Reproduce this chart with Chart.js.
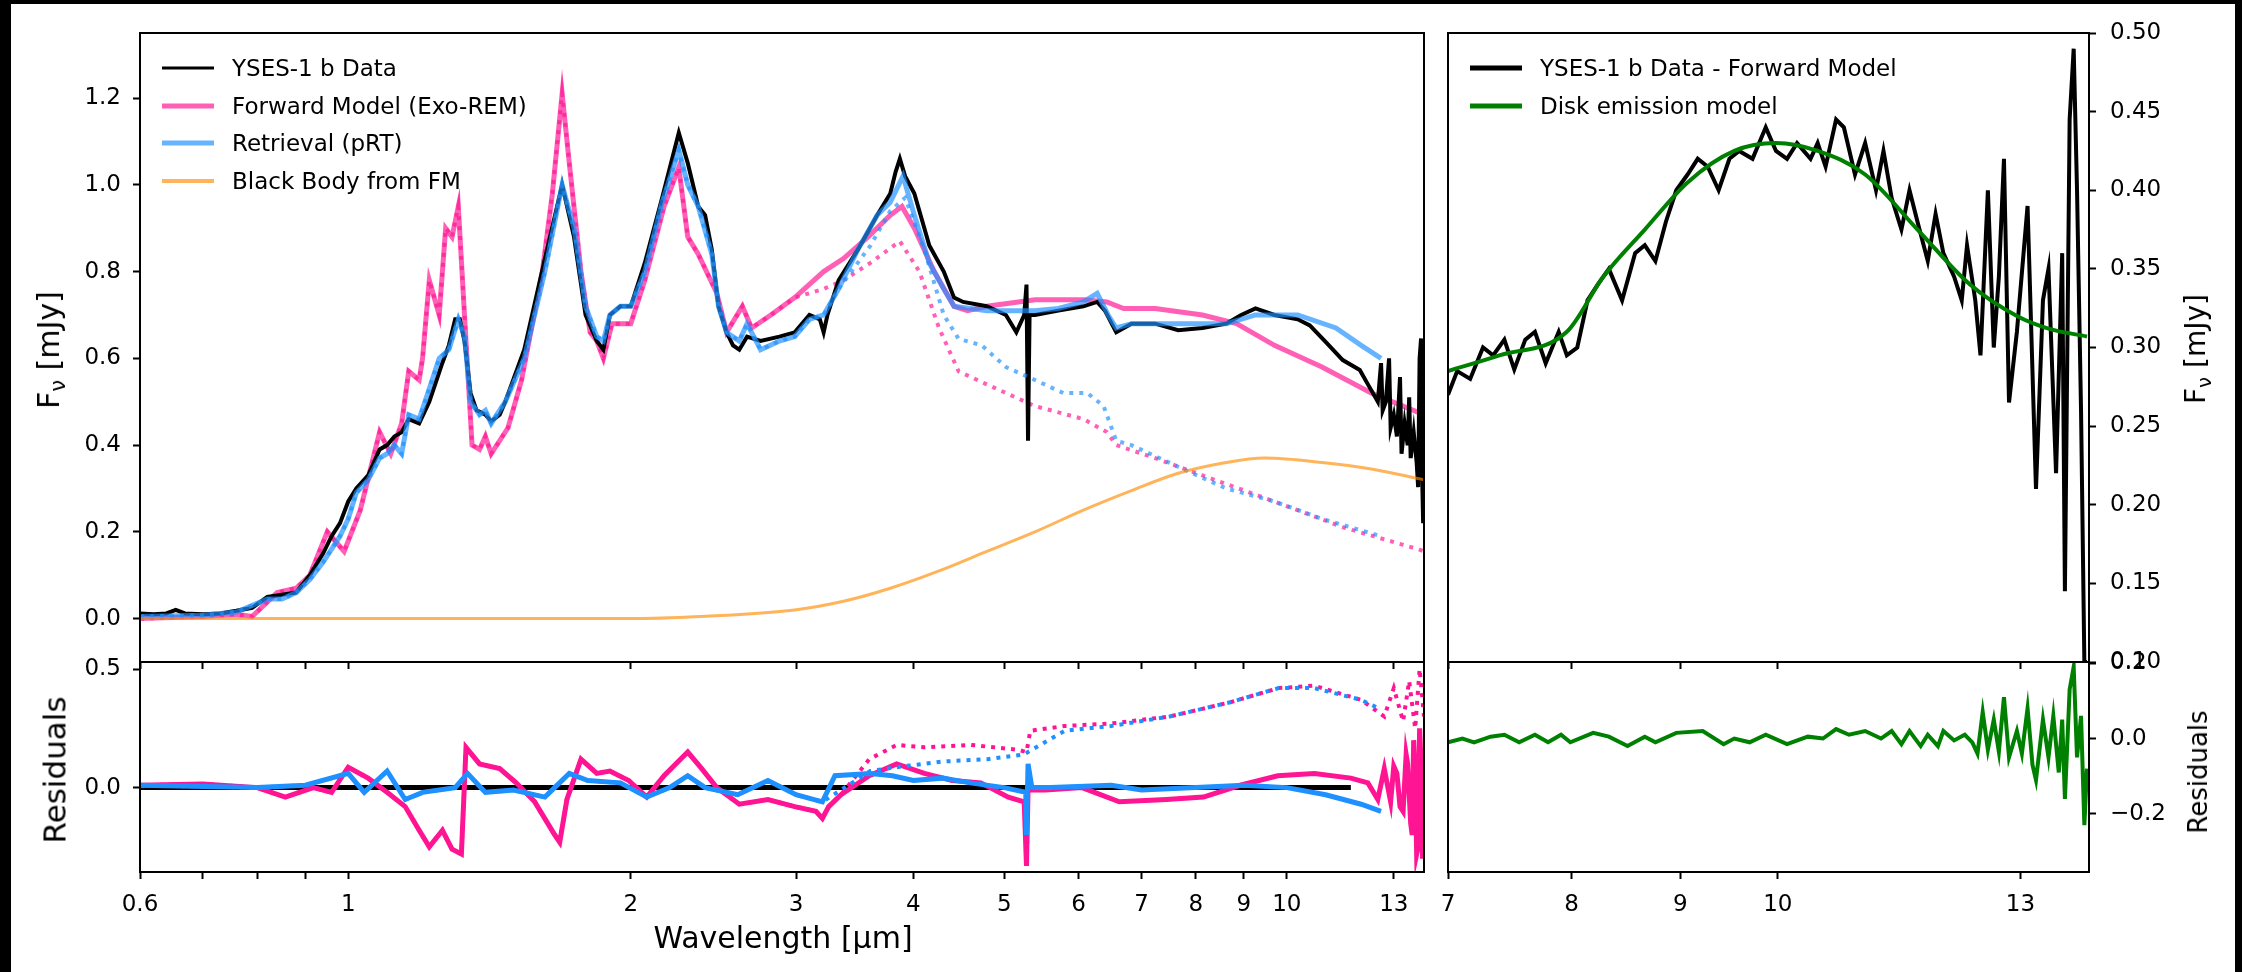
<!DOCTYPE html>
<html>
<head>
<meta charset="utf-8">
<script src="https://cdn.jsdelivr.net/npm/chart.js@4.4.1/dist/chart.umd.min.js"></script>
<style>
  html, body { margin: 0; padding: 0; background: #000; width: 2242px; height: 972px; overflow: hidden; }
  #fig { position: absolute; left: 11px; top: 4px; width: 2224px; height: 968px; background: #fff; }
  canvas { position: absolute; left: 0; top: 0; }
  .lbl { position: absolute; font-family: 'DejaVu Sans'; color: #000; white-space: nowrap; line-height: 1; transform: translate(-50%, -50%); }
  .rot { transform: translate(-50%, -50%) rotate(-90deg); }
  .lbl sub { font-size: 0.7em; vertical-align: -0.3em; line-height: 0; }
  .leg { position: absolute; font-family: 'DejaVu Sans'; font-size: 23px; line-height: 1; color: #000; white-space: nowrap; transform: translateY(-50%); }
  .sw { position: absolute; width: 52px; transform: translateY(-50%); }
</style>
</head>
<body>
<div id="fig"></div>
<canvas id="spec" width="2242" height="972"></canvas>
<canvas id="specRes" width="2242" height="972"></canvas>
<canvas id="disk" width="2242" height="972"></canvas>
<canvas id="diskRes" width="2242" height="972"></canvas>

<div class="lbl rot" style="left:49px; top:350px; font-size:30px">F<sub>ν</sub> [mJy]</div>
<div class="lbl rot" style="left:55px; top:770px; font-size:31px">Residuals</div>
<div class="lbl" style="left:783px; top:938px; font-size:30px">Wavelength [µm]</div>
<div class="lbl rot" style="left:2196px; top:349px; font-size:28px">F<sub>ν</sub> [mJy]</div>
<div class="lbl rot" style="left:2198px; top:772px; font-size:26px">Residuals</div>

<script>
// ---- main spectrum (top left) ----
const dataWl = [0.60,0.62,0.64,0.655,0.67,0.70,0.73,0.76,0.79,0.82,
  0.85,0.88,0.91,0.94,0.96,0.98,1.00,1.02,1.05,1.08,
  1.10,1.12,1.14,1.16,1.19,1.22,1.26,1.28,1.30,1.315,
  1.33,1.35,1.37,1.40,1.42,1.45,1.47,1.54,1.62,1.69,
  1.74,1.79,1.84,1.87,1.90,1.95,2.00,2.07,2.16,2.25,
  2.30,2.36,2.40,2.44,2.48,2.53,2.57,2.61,2.66,2.75,
  2.88,2.99,3.10,3.18,3.21,3.24,3.33,3.49,3.66,3.78,
  3.83,3.87,3.92,4.01,4.16,4.31,4.42,4.52,4.79,5.02,
  5.15,5.25,5.28,5.30,5.32,5.39,5.71,6.07,6.28,6.40,
  6.58,6.83,7.24,7.66,8.13,8.62,8.94,9.26,9.70,10.27,
  10.58,11.03,11.47,11.96,12.20,12.35,12.50,12.60,12.65,12.75,
  12.85,12.90,13.00,13.10,13.20,13.25,13.35,13.45,13.50,13.55,
  13.65,13.75,13.80,13.85,13.90,13.93,13.97,14.00];
const dataFlux = [0.012,0.010,0.012,0.020,0.012,0.010,0.012,0.018,0.025,0.050,
  0.055,0.060,0.100,0.150,0.190,0.220,0.270,0.300,0.330,0.390,
  0.400,0.420,0.430,0.460,0.450,0.500,0.590,0.630,0.690,0.690,
  0.640,0.520,0.480,0.470,0.455,0.470,0.500,0.620,0.830,1.000,
  0.880,0.700,0.640,0.620,0.700,0.720,0.720,0.820,0.970,1.120,
  1.050,0.950,0.930,0.850,0.720,0.660,0.630,0.620,0.650,0.640,
  0.650,0.660,0.700,0.690,0.660,0.700,0.780,0.850,0.930,0.980,
  1.030,1.060,1.020,0.980,0.860,0.800,0.740,0.730,0.720,0.700,
  0.660,0.700,0.770,0.410,0.700,0.700,0.710,0.720,0.730,0.710,
  0.660,0.680,0.680,0.665,0.670,0.680,0.700,0.715,0.700,0.690,
  0.676,0.635,0.596,0.573,0.540,0.520,0.500,0.589,0.480,0.500,
  0.600,0.440,0.470,0.420,0.557,0.380,0.450,0.400,0.510,0.370,
  0.430,0.360,0.303,0.600,0.646,0.350,0.220,0.450];

const fmWl = [0.60,0.70,0.76,0.79,0.84,0.88,0.91,0.95,0.99,1.03,
  1.08,1.11,1.14,1.16,1.19,1.20,1.22,1.25,1.27,1.29,
  1.31,1.33,1.355,1.38,1.40,1.42,1.48,1.53,1.61,1.65,
  1.69,1.72,1.77,1.81,1.84,1.87,1.91,2.00,2.07,2.17,
  2.25,2.30,2.36,2.47,2.53,2.63,2.69,2.82,2.99,3.21,
  3.37,3.58,3.78,3.89,4.01,4.21,4.42,4.57,4.79,5.39,
  6.07,6.43,6.70,7.24,8.13,8.84,9.70,10.90,12.30,14.00];
const fmFlux = [0.000,0.005,0.010,0.005,0.060,0.070,0.100,0.200,0.155,0.250,
  0.430,0.380,0.450,0.570,0.550,0.600,0.780,0.700,0.900,0.880,
  0.950,0.700,0.400,0.390,0.420,0.380,0.440,0.550,0.800,0.980,
  1.210,1.050,0.800,0.660,0.640,0.600,0.680,0.680,0.780,0.950,
  1.040,0.880,0.840,0.750,0.660,0.720,0.670,0.700,0.740,0.800,
  0.830,0.880,0.930,0.950,0.900,0.800,0.720,0.710,0.720,0.735,
  0.735,0.730,0.715,0.715,0.700,0.680,0.630,0.580,0.520,0.470];
// dotted forward model leaves the solid one past ~3 micron
const fmDotWl = [3.21,3.37,3.60,3.87,4.06,4.26,4.47,4.79,5.39,6.07,6.43,6.58,7.24,8.13,9.15,10.27,11.50,13.80,14.00];
const fmDotFlux = [0.760,0.780,0.820,0.870,0.800,0.670,0.570,0.540,0.490,0.460,0.430,0.400,0.370,0.330,0.290,0.250,0.210,0.160,0.155];

const retWl = [0.60,0.70,0.76,0.82,0.85,0.88,0.91,0.94,0.96,0.98,
  1.00,1.02,1.05,1.08,1.10,1.12,1.14,1.16,1.19,1.22,
  1.25,1.28,1.31,1.33,1.35,1.38,1.40,1.42,1.47,1.54,
  1.62,1.69,1.74,1.79,1.84,1.87,1.90,1.95,2.00,2.07,
  2.16,2.25,2.30,2.36,2.44,2.48,2.53,2.61,2.66,2.75,
  2.88,2.99,3.10,3.21,3.33,3.49,3.66,3.78,3.90,4.01,
  4.16,4.31,4.42,4.79,5.39,5.71,6.07,6.28,6.45,6.58,
  6.83,7.66,8.62,9.26,10.27,11.28,12.00,12.60];
const retFlux = [0.005,0.008,0.015,0.045,0.045,0.060,0.090,0.130,0.160,0.190,
  0.230,0.290,0.320,0.370,0.380,0.400,0.380,0.470,0.460,0.530,
  0.600,0.620,0.690,0.650,0.500,0.470,0.480,0.450,0.500,0.600,
  0.800,1.000,0.900,0.720,0.650,0.640,0.700,0.720,0.720,0.800,
  0.960,1.080,1.000,0.950,0.840,0.720,0.660,0.640,0.680,0.620,
  0.640,0.650,0.690,0.700,0.760,0.850,0.930,0.960,1.020,0.930,
  0.820,0.760,0.720,0.710,0.710,0.715,0.730,0.750,0.700,0.670,
  0.680,0.680,0.680,0.700,0.700,0.670,0.630,0.600];
const retDotWl = [3.33,3.60,3.78,3.92,4.11,4.31,4.47,4.73,5.02,5.39,5.78,6.13,6.38,6.58,6.83,7.66,8.62,9.70,10.90,12.60];
const retDotFlux = [0.760,0.860,0.940,0.970,0.850,0.700,0.645,0.630,0.580,0.550,0.520,0.520,0.490,0.410,0.400,0.350,0.300,0.270,0.230,0.190];

const bbWl = [0.60,2.00,2.37,2.99,3.37,3.78,4.26,4.79,5.39,6.07,6.83,7.66,8.62,9.47,10.90,12.30,14.00];
const bbFlux = [0.000,0.000,0.005,0.020,0.040,0.070,0.110,0.155,0.200,0.250,0.295,0.335,0.360,0.370,0.360,0.345,0.320];

// ---- residuals (bottom left) ----
const zeroWl = [0.60, 11.70];
const zeroVal = [0, 0];
const resFmWl = [0.60,0.70,0.80,0.857,0.918,0.96,1.00,1.05,1.10,1.15,
  1.19,1.22,1.26,1.29,1.32,1.335,1.38,1.45,1.51,1.58,
  1.66,1.68,1.71,1.77,1.84,1.90,1.99,2.08,2.17,2.30,
  2.38,2.47,2.61,2.80,2.99,3.15,3.20,3.25,3.35,3.59,
  3.84,4.11,4.40,4.72,5.05,5.25,5.28,5.30,5.53,6.05,
  6.63,7.44,8.15,8.92,9.78,10.70,11.70,12.20,12.50,12.70,
  12.90,13.00,13.10,13.20,13.30,13.40,13.45,13.55,13.60,13.65,
  13.70,13.75,13.80,13.85,13.90,13.95,14.00];
const resFmVal = [0.010,0.015,0.000,-0.040,0.000,-0.020,0.086,0.040,-0.020,-0.080,
  -0.180,-0.250,-0.180,-0.260,-0.280,0.170,0.100,0.080,0.020,-0.060,
  -0.200,-0.230,-0.050,0.120,0.060,0.070,0.030,-0.040,0.050,0.150,
  0.080,0.000,-0.070,-0.050,-0.080,-0.100,-0.130,-0.080,-0.030,0.050,
  0.100,0.060,0.030,0.020,-0.040,-0.060,-0.330,-0.010,-0.010,0.000,
  -0.060,-0.050,-0.040,0.010,0.050,0.060,0.040,0.020,-0.050,0.080,
  -0.060,0.090,0.060,-0.080,-0.100,0.140,0.100,-0.150,-0.200,0.200,
  0.050,-0.280,-0.250,0.250,0.100,-0.300,-0.150];
const resFmDotWl = [3.59,3.84,4.11,4.61,5.17,5.28,5.33,5.80,6.48,7.50,8.70,9.80,10.70,12.00,12.70,13.00,13.30,13.50,13.70,13.85,14.00];
const resFmDotVal = [0.120,0.180,0.170,0.180,0.160,0.150,0.240,0.260,0.270,0.300,0.360,0.420,0.430,0.370,0.300,0.420,0.280,0.450,0.250,0.500,0.300];

const resRetWl = [0.60,0.80,0.90,1.00,1.04,1.10,1.15,1.20,1.30,1.34,
  1.40,1.50,1.62,1.72,1.80,1.95,2.08,2.20,2.30,2.40,
  2.60,2.80,3.00,3.20,3.30,3.60,3.80,4.00,4.30,4.60,
  5.00,5.27,5.28,5.30,5.35,5.60,6.50,7.00,8.00,9.00,
  10.00,11.00,12.00,12.60];
const resRetVal = [0.010,0.000,0.010,0.060,-0.020,0.070,-0.050,-0.020,0.000,0.060,
  -0.020,-0.010,-0.040,0.060,0.030,0.020,-0.040,0.000,0.050,0.000,
  -0.030,0.030,-0.030,-0.060,0.050,0.060,0.050,0.030,0.040,0.020,
  0.000,-0.020,-0.200,0.100,0.000,0.000,0.010,-0.010,0.000,0.010,
  0.000,-0.030,-0.070,-0.100];
const resRetDotWl = [3.60,3.90,4.30,4.80,5.25,5.30,5.80,6.50,7.50,8.70,9.80,10.70,12.00,12.60];
const resRetDotVal = [0.070,0.090,0.110,0.120,0.140,0.150,0.240,0.260,0.300,0.360,0.420,0.420,0.370,0.330];

// ---- disk excess (right) ----
const diskWl = [7.00,7.07,7.17,7.27,7.35,7.44,7.52,7.61,7.69,7.78,
  7.89,7.96,8.05,8.14,8.23,8.33,8.45,8.57,8.66,8.76,
  8.86,8.96,9.07,9.17,9.27,9.38,9.49,9.59,9.73,9.87,
  9.98,10.10,10.21,10.36,10.44,10.53,10.65,10.74,10.87,10.99,
  11.12,11.21,11.31,11.43,11.53,11.63,11.76,11.86,11.96,12.10,
  12.20,12.27,12.38,12.45,12.55,12.63,12.70,12.77,12.84,12.95,
  13.10,13.22,13.32,13.40,13.51,13.60,13.64,13.71,13.77,13.82,
  13.88,13.93,13.97];
const diskFlux = [0.270,0.285,0.280,0.300,0.295,0.305,0.286,0.305,0.310,0.290,
  0.310,0.295,0.300,0.330,0.340,0.350,0.330,0.360,0.365,0.355,
  0.380,0.400,0.410,0.420,0.415,0.400,0.420,0.425,0.420,0.440,
  0.425,0.420,0.430,0.420,0.430,0.415,0.445,0.440,0.410,0.430,
  0.400,0.425,0.395,0.375,0.400,0.380,0.355,0.385,0.360,0.345,
  0.330,0.365,0.330,0.295,0.400,0.300,0.345,0.420,0.265,0.310,
  0.390,0.210,0.330,0.350,0.220,0.360,0.145,0.445,0.490,0.400,
  0.260,0.100,0.100];
const diskModelWl = [7.00,7.40,7.96,8.28,8.66,9.07,9.54,9.98,10.44,10.99,11.63,12.31,12.95,13.40,13.97];
const diskModelFlux = [0.285,0.295,0.310,0.345,0.375,0.405,0.425,0.430,0.425,0.410,0.375,0.340,0.320,0.312,0.307];

const diskResWl = [7.00,7.11,7.20,7.33,7.44,7.56,7.69,7.80,7.91,7.99,
  8.19,8.33,8.50,8.66,8.76,8.96,9.22,9.43,9.54,9.70,
  9.87,10.10,10.33,10.50,10.65,10.80,10.99,11.18,11.31,11.43,
  11.53,11.67,11.76,11.89,11.96,12.10,12.24,12.34,12.41,12.48,
  12.55,12.63,12.70,12.77,12.84,12.95,13.02,13.10,13.17,13.22,
  13.32,13.40,13.47,13.55,13.60,13.64,13.71,13.77,13.82,13.88,
  13.93,13.97];
const diskResVal = [-0.010,0.000,-0.010,0.005,0.010,-0.010,0.010,-0.010,0.010,-0.010,
  0.015,0.005,-0.020,0.005,-0.010,0.015,0.020,-0.015,0.000,-0.010,
  0.010,-0.015,0.005,0.000,0.025,0.010,0.020,0.000,0.020,-0.015,
  0.020,-0.020,0.010,-0.020,0.020,-0.005,0.010,-0.010,-0.040,0.070,
  -0.030,0.050,-0.035,0.110,-0.050,0.020,-0.040,0.080,-0.070,-0.110,
  0.050,-0.050,0.060,-0.090,0.050,-0.160,0.130,0.190,-0.050,0.060,
  -0.230,-0.080];

// ---- ticks ----
const xTicksLeft = [0.6, 0.7, 0.8, 0.9, 1, 2, 3, 4, 5, 6, 7, 8, 9, 10, 13];
const xLabelsLeft = ['0.6', '', '', '', '1', '2', '3', '4', '5', '6', '7', '8', '9', '10', '13'];
const xTicksRight = [7, 8, 9, 10, 13];
const xLabelsRight = ['7', '8', '9', '10', '13'];
const yTicksSpec = [0, 0.2, 0.4, 0.6, 0.8, 1.0, 1.2];
const yTicksSpecRes = [0, 0.5];
const yTicksDisk = [0.10, 0.15, 0.20, 0.25, 0.30, 0.35, 0.40, 0.45, 0.50];
const yTicksDiskRes = [-0.2, 0, 0.2];

const pinkLine = 'rgba(255,20,147,0.68)';
const blueLine = 'rgba(30,144,255,0.68)';
const orangeLine = 'rgba(255,140,0,0.65)';
const pinkRes = '#ff1493';
const blueRes = '#1e90ff';
const green = '#008000';

Chart.defaults.font.family = 'DejaVu Sans';
Chart.defaults.color = '#000';
const tickFont = { family: 'DejaVu Sans', size: 23 };

// keep the solid part below the split, then the dotted tail
const joinBelow = (wl, vals, cut, tailWl, tailVals) => ({
  wl: wl.filter(w => w < cut).concat(tailWl),
  vals: vals.filter((v, i) => wl[i] < cut).concat(tailVals)
});
const fmDot = joinBelow(fmWl, fmFlux, 3.1, fmDotWl, fmDotFlux);
const retDot = joinBelow(retWl, retFlux, 3.3, retDotWl, retDotFlux);
const resFmDot = joinBelow(resFmWl, resFmVal, 3.4, resFmDotWl, resFmDotVal);
const resRetDot = joinBelow(resRetWl, resRetVal, 3.3, resRetDotWl, resRetDotVal);

function series(xs, ys, color, width, order, extra) {
  return Object.assign({
    data: xs.map((x, i) => ({ x: x, y: ys[i] })),
    borderColor: color, borderWidth: width, pointRadius: 0,
    tension: 0, fill: false, order: order
  }, extra || {});
}
const dotted = { borderDash: [4, 6] };
const smooth = { cubicInterpolationMode: 'monotone' };

function xAxis(min, max, ticks, labels, height) {
  return {
    type: 'logarithmic', position: 'bottom', min: min, max: max,
    border: { display: false },
    grid: { drawOnChartArea: false, tickLength: 7, tickWidth: 2, tickColor: '#000' },
    ticks: {
      display: labels !== null, autoSkip: false, maxRotation: 0, minRotation: 0,
      padding: 12, color: '#000', font: tickFont,
      callback: (v) => labels ? labels[ticks.indexOf(v)] : ''
    },
    afterBuildTicks: (s) => { s.ticks = ticks.map(v => ({ value: v })); },
    afterFit: (s) => { s.height = height; }
  };
}

function yAxis(side, min, max, ticks, fmt, width) {
  return {
    type: 'linear', position: side, min: min, max: max,
    border: { display: false },
    grid: { drawOnChartArea: false, tickLength: 7, tickWidth: 2, tickColor: '#000' },
    ticks: { autoSkip: false, padding: side === 'left' ? 12 : 14, color: '#000', font: tickFont, callback: fmt },
    afterBuildTicks: (s) => { s.ticks = ticks.map(v => ({ value: v })); },
    afterFit: (s) => { s.width = width; }
  };
}

// matplotlib style box round each panel
const frame = {
  id: 'frame',
  afterDatasetsDraw(chart) {
    const a = chart.chartArea;
    const ctx = chart.ctx;
    ctx.save();
    ctx.strokeStyle = '#000';
    ctx.lineWidth = 2;
    ctx.strokeRect(a.left, a.top, a.right - a.left, a.bottom - a.top);
    ctx.restore();
  }
};

function makeChart(id, datasets, scales, pad) {
  return new Chart(document.getElementById(id), {
    type: 'line',
    data: { datasets: datasets },
    options: {
      responsive: false, animation: false, devicePixelRatio: 1, events: [],
      layout: { padding: pad, autoPadding: false },
      plugins: { legend: { display: false }, tooltip: { enabled: false } },
      scales: scales
    },
    plugins: [frame]
  });
}

const fix1 = (v) => v.toFixed(1);
const fix2 = (v) => v.toFixed(2);
const signed = (v) => (v < 0 ? '\u2212' + (-v).toFixed(1) : v.toFixed(1));

// top left: spectrum
makeChart('spec', [
  series(fmWl, fmFlux, pinkLine, 5, 5),
  series(fmDot.wl, fmDot.vals, pinkLine, 4, 4, dotted),
  series(dataWl, dataFlux, '#000', 4, 3),
  series(retWl, retFlux, blueLine, 5, 2),
  series(retDot.wl, retDot.vals, blueLine, 4, 1, dotted),
  series(bbWl, bbFlux, orangeLine, 3, 0, smooth)
], {
  x: xAxis(0.6, 14, xTicksLeft, null, 10),
  y: yAxis('left', -0.1, 1.35, yTicksSpec, fix1, 140)
}, { left: 0, top: 33, right: 818, bottom: 300 });

// bottom left: residuals
makeChart('specRes', [
  series(zeroWl, zeroVal, '#000', 5, 5),
  series(resFmWl, resFmVal, pinkRes, 5, 4),
  series(resFmDot.wl, resFmDot.vals, pinkRes, 4, 3, dotted),
  series(resRetWl, resRetVal, blueRes, 5, 2),
  series(resRetDot.wl, resRetDot.vals, blueRes, 4, 1, dotted)
], {
  x: xAxis(0.6, 14, xTicksLeft, xLabelsLeft, 100),
  y: yAxis('left', -0.356, 0.53, yTicksSpecRes, fix1, 140)
}, { left: 0, top: 662, right: 818, bottom: 0 });

// top right: disk excess
makeChart('disk', [
  series(diskWl, diskFlux, '#000', 4, 1),
  series(diskModelWl, diskModelFlux, green, 4, 0, smooth)
], {
  x: xAxis(7, 14, xTicksRight, null, 10),
  y: yAxis('right', 0.10, 0.50, yTicksDisk, fix2, 100)
}, { left: 1448, top: 33, right: 53, bottom: 300 });

// bottom right: disk residuals
makeChart('diskRes', [
  series(diskResWl, diskResVal, green, 4, 0)
], {
  x: xAxis(7, 14, xTicksRight, xLabelsRight, 100),
  y: yAxis('right', -0.354, 0.203, yTicksDiskRes, signed, 100)
}, { left: 1448, top: 662, right: 53, bottom: 0 });

// legends drawn inside the upper left of each top panel
const legendLeft = [
  ['YSES-1 b Data', '#000', 3],
  ['Forward Model (Exo-REM)', pinkLine, 5],
  ['Retrieval (pRT)', blueLine, 5],
  ['Black Body from FM', orangeLine, 4]
];
const legendRight = [
  ['YSES-1 b Data - Forward Model', '#000', 5],
  ['Disk emission model', green, 5]
];

function addLegend(items, x, y0) {
  items.forEach((it, i) => {
    const y = y0 + i * 37.7;
    const sw = document.createElement('div');
    sw.className = 'sw';
    sw.style.left = x + 'px';
    sw.style.top = y + 'px';
    sw.style.height = it[2] + 'px';
    sw.style.background = it[1];
    document.body.appendChild(sw);
    const tx = document.createElement('div');
    tx.className = 'leg';
    tx.style.left = (x + 70) + 'px';
    tx.style.top = y + 'px';
    tx.textContent = it[0];
    document.body.appendChild(tx);
  });
}
addLegend(legendLeft, 162, 68);
addLegend(legendRight, 1470, 68);
</script>
</body>
</html>
